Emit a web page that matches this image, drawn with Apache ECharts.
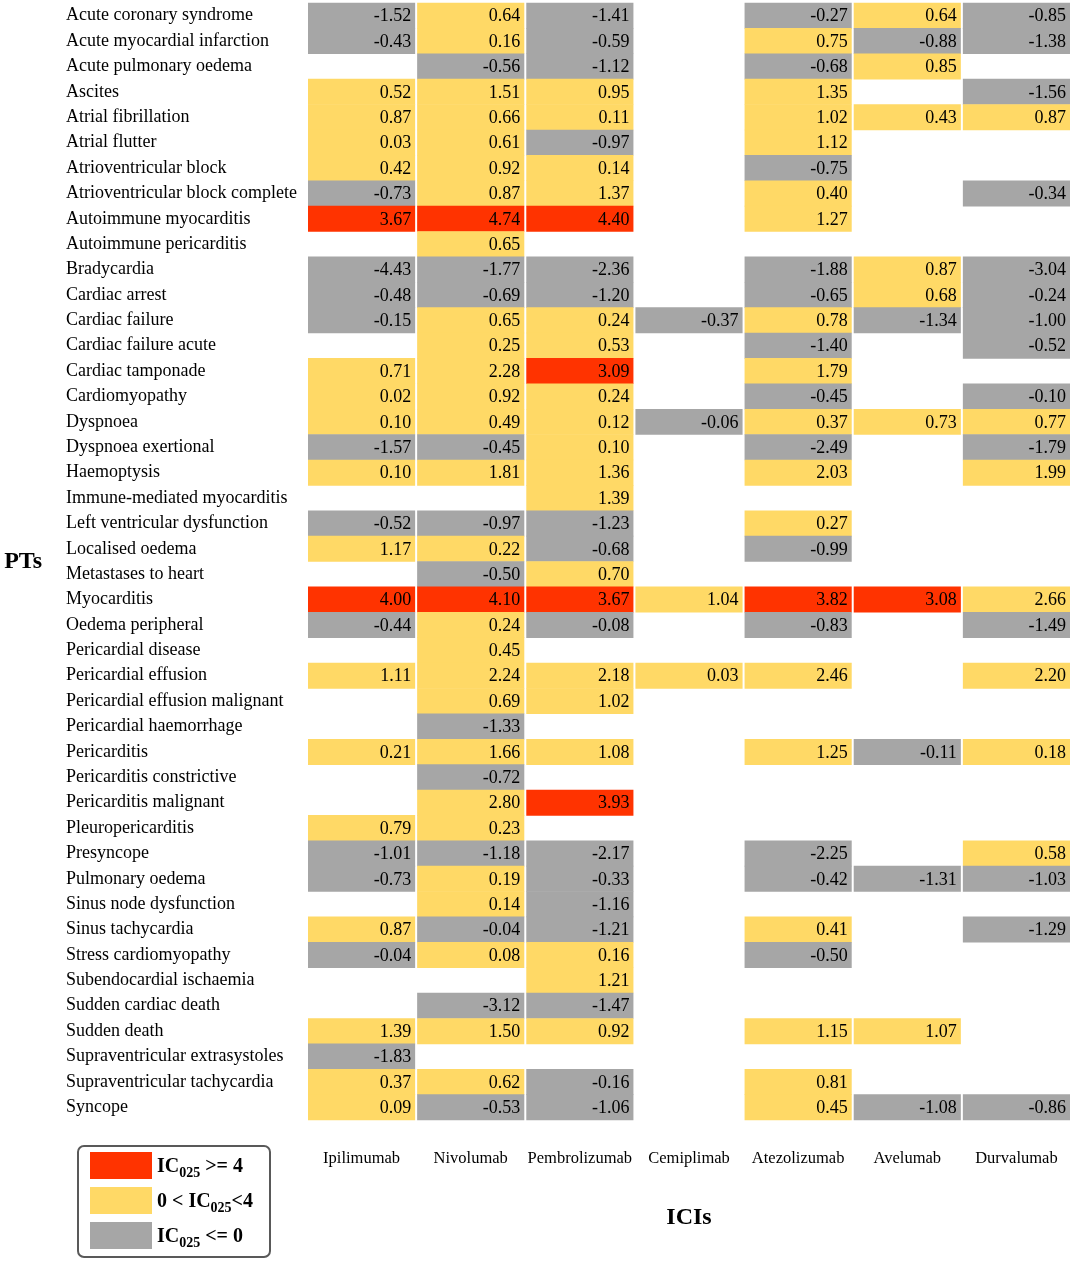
<!DOCTYPE html>
<html>
<head>
<meta charset="utf-8">
<script src="https://cdn.jsdelivr.net/npm/echarts@6/dist/echarts.min.js"></script>
<style>html,body{margin:0;padding:0;background:#fff;}#chart{width:1072px;height:1261px;}</style>
</head>
<body>
<div id="chart"></div>
<script>
const pts = ["Acute coronary syndrome","Acute myocardial infarction","Acute pulmonary oedema","Ascites","Atrial fibrillation","Atrial flutter","Atrioventricular block","Atrioventricular block complete","Autoimmune myocarditis","Autoimmune pericarditis","Bradycardia","Cardiac arrest","Cardiac failure","Cardiac failure acute","Cardiac tamponade","Cardiomyopathy","Dyspnoea","Dyspnoea exertional","Haemoptysis","Immune-mediated myocarditis","Left ventricular dysfunction","Localised oedema","Metastases to heart","Myocarditis","Oedema peripheral","Pericardial disease","Pericardial effusion","Pericardial effusion malignant","Pericardial haemorrhage","Pericarditis","Pericarditis constrictive","Pericarditis malignant","Pleuropericarditis","Presyncope","Pulmonary oedema","Sinus node dysfunction","Sinus tachycardia","Stress cardiomyopathy","Subendocardial ischaemia","Sudden cardiac death","Sudden death","Supraventricular extrasystoles","Supraventricular tachycardia","Syncope"];
const icis = ["Ipilimumab","Nivolumab","Pembrolizumab","Cemiplimab","Atezolizumab","Avelumab","Durvalumab"];

const ipilimumab = [-1.52,-0.43,null,0.52,0.87,0.03,0.42,-0.73,3.67,null,-4.43,-0.48,-0.15,null,0.71,0.02,0.10,-1.57,0.10,null,-0.52,1.17,null,4.00,-0.44,null,1.11,null,null,0.21,null,null,0.79,-1.01,-0.73,null,0.87,-0.04,null,null,1.39,-1.83,0.37,0.09];
const nivolumab = [0.64,0.16,-0.56,1.51,0.66,0.61,0.92,0.87,4.74,0.65,-1.77,-0.69,0.65,0.25,2.28,0.92,0.49,-0.45,1.81,null,-0.97,0.22,-0.50,4.10,0.24,0.45,2.24,0.69,-1.33,1.66,-0.72,2.80,0.23,-1.18,0.19,0.14,-0.04,0.08,null,-3.12,1.50,null,0.62,-0.53];
const pembrolizumab = [-1.41,-0.59,-1.12,0.95,0.11,-0.97,0.14,1.37,4.40,null,-2.36,-1.20,0.24,0.53,3.09,0.24,0.12,0.10,1.36,1.39,-1.23,-0.68,0.70,3.67,-0.08,null,2.18,1.02,null,1.08,null,3.93,null,-2.17,-0.33,-1.16,-1.21,0.16,1.21,-1.47,0.92,null,-0.16,-1.06];
const cemiplimab = [null,null,null,null,null,null,null,null,null,null,null,null,-0.37,null,null,null,-0.06,null,null,null,null,null,null,1.04,null,null,0.03,null,null,null,null,null,null,null,null,null,null,null,null,null,null,null,null,null];
const atezolizumab = [-0.27,0.75,-0.68,1.35,1.02,1.12,-0.75,0.40,1.27,null,-1.88,-0.65,0.78,-1.40,1.79,-0.45,0.37,-2.49,2.03,null,0.27,-0.99,null,3.82,-0.83,null,2.46,null,null,1.25,null,null,null,-2.25,-0.42,null,0.41,-0.50,null,null,1.15,null,0.81,0.45];
const avelumab = [0.64,-0.88,0.85,null,0.43,null,null,null,null,null,0.87,0.68,-1.34,null,null,null,0.73,null,null,null,null,null,null,3.08,null,null,null,null,null,-0.11,null,null,null,null,-1.31,null,null,null,null,null,1.07,null,null,-1.08];
const durvalumab = [-0.85,-1.38,null,-1.56,0.87,null,null,-0.34,null,null,-3.04,-0.24,-1.00,-0.52,null,-0.10,0.77,-1.79,1.99,null,null,null,null,2.66,-1.49,null,2.20,null,null,0.18,null,null,null,0.58,-1.03,null,-1.29,null,null,null,null,null,null,-0.86];

const columns = [ipilimumab, nivolumab, pembrolizumab, cemiplimab, atezolizumab, avelumab, durvalumab];
const cells = [];
columns.forEach((col, xi) => {
  col.forEach((v, yi) => { if (v !== null) cells.push([xi, yi, v]); });
});

const SERIF = '"Liberation Serif","Times New Roman",serif';
const chart = echarts.init(document.getElementById('chart'), null, {renderer: 'canvas'});

const legendItems = [
  {color: '#FF3300', pre: '', post: ' >= 4'},
  {color: '#FFD966', pre: '0 < ', post: '<4'},
  {color: '#A6A6A6', pre: '', post: ' <= 0'}
];
const legendGraphics = [{
  type: 'rect', left: 77, top: 1145,
  shape: {width: 192, height: 111, r: 6},
  style: {fill: '#fff', stroke: '#595959', lineWidth: 2}
}];
legendItems.forEach((it, i) => {
  const top = 1152 + i * 35;
  legendGraphics.push({type: 'rect', left: 90, top: top, shape: {width: 62, height: 27}, style: {fill: it.color}});
  legendGraphics.push({
    type: 'text', left: 157, top: top + 2,
    style: {
      text: '{n|' + it.pre + 'IC}{s|025}{n|' + it.post + '}',
      rich: {
        n: {font: 'bold 20px ' + SERIF, fill: '#000', verticalAlign: 'middle', lineHeight: 22},
        s: {font: 'bold 14px ' + SERIF, fill: '#000', padding: [12, 0, 0, 0], lineHeight: 22}
      }
    }
  });
});

chart.setOption({
  animation: false,
  backgroundColor: '#fff',
  grid: {left: 307, right: 1, top: 3, bottom: 141, containLabel: false, outerBoundsMode: 'none'},
  xAxis: {
    type: 'category', data: icis, position: 'bottom',
    axisLine: {show: false}, axisTick: {show: false}, splitLine: {show: false},
    axisLabel: {margin: 30, fontFamily: SERIF, fontSize: 16.5, color: '#000', interval: 0},
    name: 'ICIs', nameLocation: 'middle', nameGap: 86,
    nameTextStyle: {fontFamily: SERIF, fontSize: 24, fontWeight: 'bold', color: '#000'}
  },
  yAxis: {
    type: 'category', data: pts, inverse: true,
    axisLine: {show: false}, axisTick: {show: false}, splitLine: {show: false},
    axisLabel: {align: 'left', margin: 241, fontFamily: SERIF, fontSize: 18, color: '#000', interval: 0},
    name: 'PTs', nameLocation: 'middle', nameGap: 265, nameRotate: 0,
    nameTextStyle: {fontFamily: SERIF, fontSize: 24, fontWeight: 'bold', color: '#000'}
  },
  visualMap: {
    show: false, type: 'piecewise', dimension: 2, seriesIndex: 0,
    pieces: [
      {gte: 3, color: '#FF3300'},
      {gt: 0, lt: 3, color: '#FFD966'},
      {lte: 0, color: '#A6A6A6'}
    ]
  },
  series: [{
    type: 'custom',
    data: cells,
    encode: {x: 0, y: 1},
    renderItem: function (params, api) {
      const c = api.coord([api.value(0), api.value(1)]);
      const s = api.size([1, 1]);
      const v = api.value(2);
      return {
        type: 'group',
        children: [
          {type: 'rect', shape: {x: c[0] - s[0] / 2 + 1, y: c[1] - s[1] / 2 - 0.3, width: s[0] - 2, height: s[1] + 0.6},
           style: {fill: api.visual('color')}},
          {type: 'text', style: {text: v.toFixed(2), x: c[0] + s[0] / 2 - 5, y: c[1] + 1,
            align: 'right', verticalAlign: 'middle', font: '18px ' + SERIF, fill: '#000'}}
        ]
      };
    }
  }],
  graphic: legendGraphics
});
</script>
</body>
</html>
